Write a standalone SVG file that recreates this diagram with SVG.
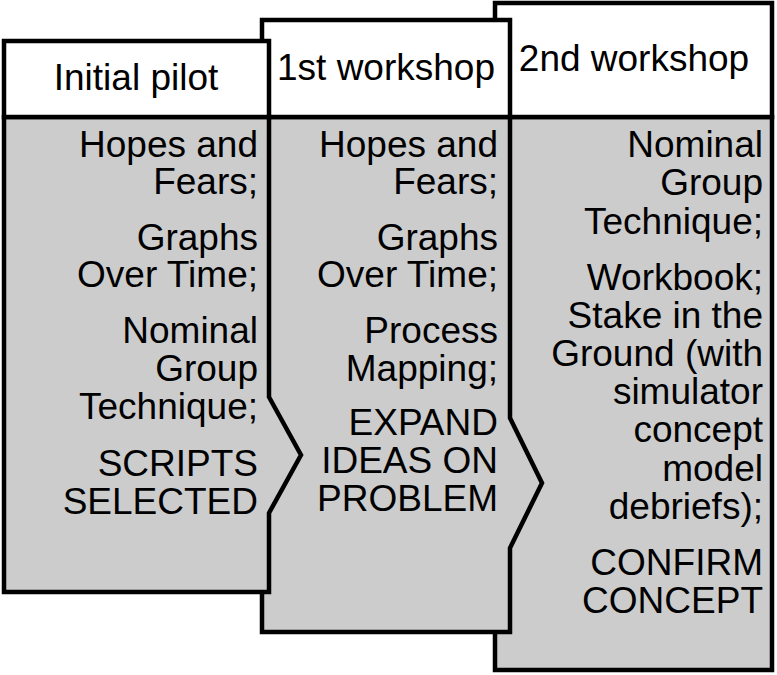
<svg xmlns="http://www.w3.org/2000/svg" width="777" height="675" viewBox="0 0 777 675">
<style>
.hdr{fill:#ffffff;stroke:#000;stroke-width:4.5}
.body{fill:#cccccc;stroke:#000;stroke-width:4.5;stroke-linejoin:miter}
text{font-family:"Liberation Sans",Arial,sans-serif;font-size:37px;fill:#000}
.t{text-anchor:end}
.h{text-anchor:middle}
</style>
<rect width="777" height="675" fill="#fff"/>
<g id="col-2nd-workshop">
<path class="body" d="M495,117 H772 V670 H495 Z"/>
<rect class="hdr" x="495" y="3" width="277" height="114"/>
<text class="h" x="634" y="71">2nd workshop</text>
<text class="t" x="763" y="157">Nominal</text>
<text class="t" x="763" y="195">Group</text>
<text class="t" x="763" y="234">Technique;</text>
<text class="t" x="763" y="290">Workbook;</text>
<text class="t" x="763" y="328">Stake in the</text>
<text class="t" x="763" y="366">Ground (with</text>
<text class="t" x="763" y="404">simulator</text>
<text class="t" x="763" y="442">concept</text>
<text class="t" x="763" y="481">model</text>
<text class="t" x="763" y="519">debriefs);</text>
<text class="t" x="763" y="575">CONFIRM</text>
<text class="t" x="763" y="613">CONCEPT</text>
</g>
<g id="col-1st-workshop">
<path class="body" d="M262,117 H510 V418 L542,483 L510,548 V632 H262 Z"/>
<rect class="hdr" x="262" y="20" width="248" height="97"/>
<text class="h" x="386" y="80">1st workshop</text>
<text class="t" x="498" y="157">Hopes and</text>
<text class="t" x="498" y="194">Fears;</text>
<text class="t" x="498" y="250">Graphs</text>
<text class="t" x="498" y="287">Over Time;</text>
<text class="t" x="498" y="343">Process</text>
<text class="t" x="498" y="381">Mapping;</text>
<text class="t" x="498" y="435">EXPAND</text>
<text class="t" x="498" y="473">IDEAS ON</text>
<text class="t" x="498" y="511">PROBLEM</text>
</g>
<g id="col-initial-pilot">
<path class="body" d="M4,117 H269 V397 L301,455 L269,513 V592 H4 Z"/>
<rect class="hdr" x="4" y="41" width="265" height="76"/>
<text class="h" x="136" y="90">Initial pilot</text>
<text class="t" x="258" y="157">Hopes and</text>
<text class="t" x="258" y="194">Fears;</text>
<text class="t" x="258" y="250">Graphs</text>
<text class="t" x="258" y="287">Over Time;</text>
<text class="t" x="258" y="343">Nominal</text>
<text class="t" x="258" y="381">Group</text>
<text class="t" x="258" y="419">Technique;</text>
<text class="t" x="258" y="476">SCRIPTS</text>
<text class="t" x="258" y="514">SELECTED</text>
</g>
</svg>
